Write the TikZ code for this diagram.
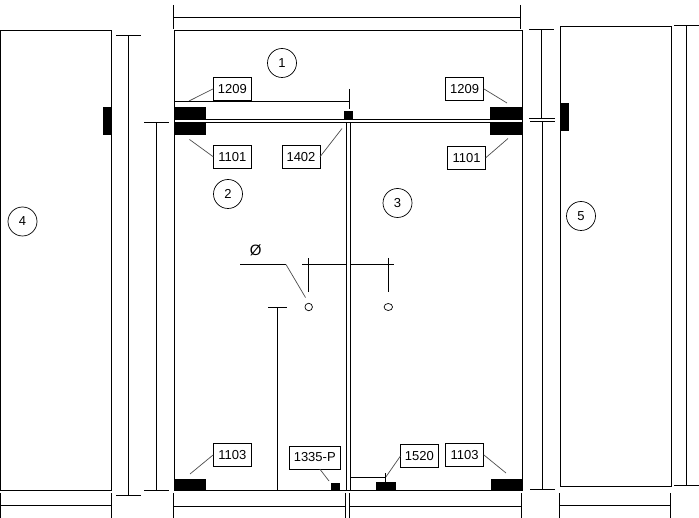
\documentclass[tikz,border=0pt]{standalone}
\usepackage{fontspec}
\setmainfont{Liberation Sans}
\usetikzlibrary{positioning, shapes.geometric}

\tikzset{
  part/.style = {rectangle, fill = black, inner sep = 0pt, outer sep = 0pt},
  partlabel/.style = {rectangle, draw, line width = 0.8pt, inner sep = 0pt, outer sep = 0pt, minimum height = 23pt, minimum width = 38pt, font = \fontsize{13}{15}\selectfont},
  numcircle/.style = {circle, draw, line width = 0.7pt, inner sep = 0pt, minimum size = 29pt, font = \fontsize{13}{15}\selectfont},
  leader/.style = {line width = 0.7pt, draw = black!70},
  outline/.style = {line width = 1pt}
}

\begin{document}
\begin{tikzpicture}[x = 1pt, y = -1pt]
        \useasboundingbox (0, 0) rectangle (699, 518);

        \draw[outline] (174.5, 30.5) rectangle (522.5, 490.5);
        \draw[outline] (174.5, 119.5) -- (522.5, 119.5);
        \draw[outline] (174.5, 122.5) -- (522.5, 122.5);
        \draw[outline] (346.5, 122.5) -- (346.5, 490.5);
        \draw[outline] (350.5, 122.5) -- (350.5, 490.5);
        \draw[outline] (0.5, 30.5) rectangle (111.5, 490.5);
        \draw[outline] (560.5, 26.5) rectangle (671.5, 486.5);

        \node[part, minimum width = 31.5pt, minimum height = 12.5pt] (hingeTL) at (190.25, 113.25) {};
        \node[part, minimum width = 31.5pt, minimum height = 13pt] (hingeBL) at (190.25, 128.5) {};
        \node[part, minimum width = 32.5pt, minimum height = 12.5pt] (hingeTR) at (506.25, 113.25) {};
        \node[part, minimum width = 32.5pt, minimum height = 13pt] (hingeBR) at (506.25, 128.5) {};
        \node[part, minimum width = 8.7pt, minimum height = 8pt] (stopTop) at (348.35, 115) {};
        \node[part, minimum width = 8.5pt, minimum height = 28pt] (tabLeft) at (107.25, 121) {};
        \node[part, minimum width = 8.5pt, minimum height = 28pt] (tabRight) at (564.75, 117) {};
        \node[part, minimum width = 31.5pt, minimum height = 11.5pt] (pivotL) at (190.25, 484.75) {};
        \node[part, minimum width = 31.5pt, minimum height = 11.5pt] (pivotR) at (506.75, 484.75) {};
        \node[part, minimum width = 9pt, minimum height = 7.5pt] (stopBottom) at (335.5, 486.75) {};
        \node[part, minimum width = 20pt, minimum height = 8.5pt] (latch) at (386, 486.25) {};

        \node[partlabel] (label1209L) [above right = 6.7pt and 7.3pt of hingeTL] {1209};
        \node[partlabel] (label1209R) [above left = 6.7pt and 6.3pt of hingeTR] {1209};
        \node[partlabel] (label1101L) [below right = 10.3pt and 7.3pt of hingeBL] {1101};
        \node[partlabel] (label1101R) [below left = 11.3pt and 4.3pt of hingeBR] {1101};
        \node[partlabel] (label1402) [below left = 26.3pt and 24pt of stopTop] {1402};
        \node[partlabel] (label1103L) [above right = 12.7pt and 7.3pt of pivotL] {1103};
        \node[partlabel] (label1103R) [above left = 12.7pt and 7.3pt of pivotR] {1103};
        \node[partlabel, minimum width = 50.5pt] (label1335) [above left = 14pt and -9pt of stopBottom] {1335-P};
        \node[partlabel] (label1520) [above right = 14.3pt and 4.3pt of latch] {1520};

        \node[numcircle] (num1) at (282, 63) {1};
        \node[numcircle] (num2) at (228, 194) {2};
        \node[numcircle] (num3) at (397.5, 203) {3};
        \node[numcircle] (num4) at (22.5, 221.5) {4};
        \node[numcircle] (num5) at (581, 216) {5};

        \coordinate (tip1209L) at (189, 101);
        \coordinate (tip1209R) at (507, 103);
        \coordinate (tip1101L) at (189.5, 139.5);
        \coordinate (tip1101R) at (508, 138.5);
        \coordinate (tip1402) at (342, 128.5);
        \coordinate (tip1103L) at (190, 474);
        \coordinate (tip1103R) at (506, 473);
        \coordinate (tip1335) at (329, 481);
        \coordinate (tip1520) at (385.5, 477.5);

        \draw[leader] (label1209L.west) -- (tip1209L);
        \draw[leader] (label1209R.east) -- (tip1209R);
        \draw[leader] (label1101L.west) -- (tip1101L);
        \draw[leader] (label1101R.east) -- (tip1101R);
        \draw[leader] (label1402.east) -- (tip1402);
        \draw[leader] (label1103L.west) -- (tip1103L);
        \draw[leader] (label1103R.east) -- (tip1103R);
        \draw[leader] (label1335.south) ++(5, 0) -- (tip1335);
        \draw[leader] (label1520.west) -- (tip1520);

        \draw[outline] (173.5, 5) -- (173.5, 29);
        \draw[outline] (173.5, 17.5) -- (520.5, 17.5);
        \draw[outline] (520.5, 5) -- (520.5, 29);

        \draw[outline] (174.5, 101.5) -- (349.5, 101.5);
        \draw[outline] (349.5, 89) -- (349.5, 109);

        \draw[outline] (116, 35.5) -- (141, 35.5);
        \draw[outline] (128.5, 35.5) -- (128.5, 495.5);
        \draw[outline] (116, 495.5) -- (141, 495.5);

        \draw[outline] (144, 122.5) -- (169, 122.5);
        \draw[outline] (156.5, 122.5) -- (156.5, 490.5);
        \draw[outline] (144, 490.5) -- (169, 490.5);

        \draw[outline] (529, 29.5) -- (554, 29.5);
        \draw[outline] (541.5, 29.5) -- (541.5, 118.5);
        \draw[outline] (529, 118.5) -- (555, 118.5);

        \draw[outline] (530, 121.5) -- (555, 121.5);
        \draw[outline] (542.5, 121.5) -- (542.5, 489.5);
        \draw[outline] (530, 489.5) -- (555, 489.5);

        \draw[outline] (674, 25.5) -- (699, 25.5);
        \draw[outline] (686.5, 25.5) -- (686.5, 485.5);
        \draw[outline] (674, 485.5) -- (699, 485.5);

        \draw[outline] (0.5, 493) -- (0.5, 518);
        \draw[outline] (0.5, 505.5) -- (111.5, 505.5);
        \draw[outline] (111.5, 493) -- (111.5, 518);

        \draw[outline] (173.5, 493) -- (173.5, 518);
        \draw[outline] (173.5, 506.5) -- (345.5, 506.5);
        \draw[outline] (345.5, 493) -- (345.5, 518);

        \draw[outline] (349.5, 493) -- (349.5, 518);
        \draw[outline] (349.5, 506.5) -- (521.5, 506.5);
        \draw[outline] (521.5, 493) -- (521.5, 518);

        \draw[outline] (559.5, 493) -- (559.5, 518);
        \draw[outline] (559.5, 505.5) -- (670.5, 505.5);
        \draw[outline] (670.5, 493) -- (670.5, 518);

        \draw[outline] (350.5, 477.5) -- (385.5, 477.5);
        \draw[outline] (385.5, 473) -- (385.5, 482);

        \draw[outline] (268, 307.5) -- (287, 307.5);
        \draw[outline] (277.5, 307.5) -- (277.5, 490.5);

        \node[inner sep = 0pt, font = \fontsize{15}{17}\selectfont] (diameter) at (255.7, 250.5) {Ø};
        \coordinate (diameterStart) at (240, 264.5);
        \coordinate (diameterBend) at (286, 264.5);
        \coordinate (diameterTip) at (305.5, 297.5);
        \draw[outline] (diameterStart) -- (diameterBend);
        \draw[leader] (diameterBend) -- (diameterTip);

        \draw[outline] (302, 264.5) -- (346.5, 264.5);
        \draw[outline] (350.5, 264.5) -- (394, 264.5);
        \draw[outline] (308.5, 258.5) -- (308.5, 292.5);
        \draw[outline] (388.5, 258) -- (388.5, 292);

        \node[circle, draw, line width = 0.7pt, inner sep = 0pt, minimum size = 7.5pt] (holeL) at (308.7, 307) {};
        \node[ellipse, draw, line width = 0.7pt, inner sep = 0pt, minimum width = 8.5pt, minimum height = 7pt] (holeR) at (388.3, 307) {};
      \end{tikzpicture}
\end{document}
